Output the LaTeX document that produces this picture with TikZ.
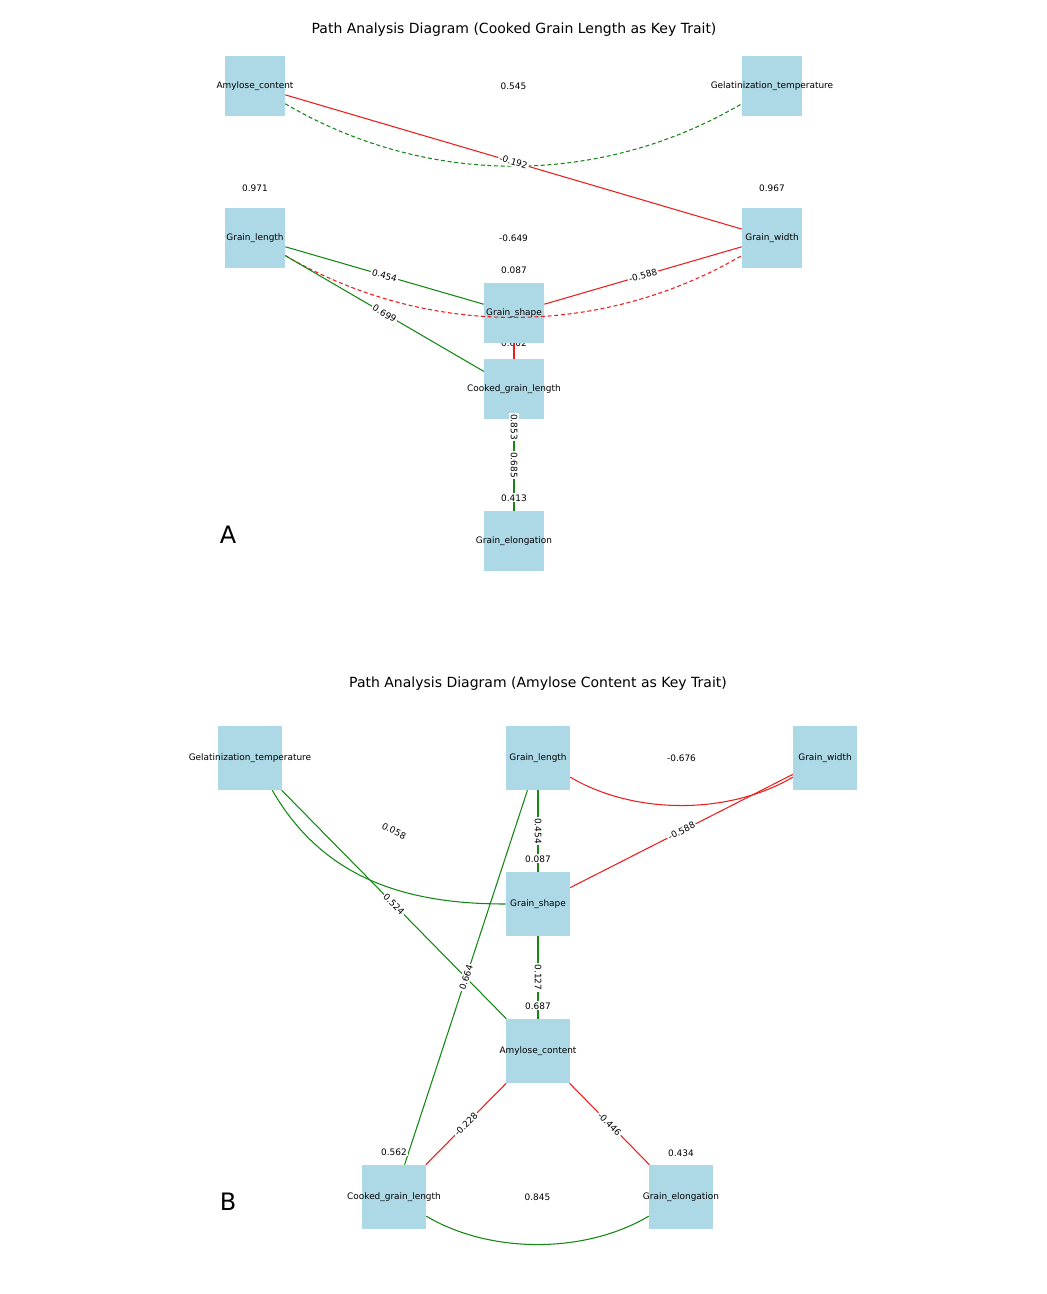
\documentclass[tikz,border=0pt]{standalone}
\usepackage{fontspec}
\setmainfont{DejaVu Sans}
\usetikzlibrary{positioning}
\definecolor{boxblue}{RGB}{173,216,230}
\definecolor{posgreen}{RGB}{20,135,20}
\definecolor{negred}{RGB}{235,30,30}
\tikzset{
  trait/.style = {fill = boxblue, shape = rectangle, minimum size = 45pt, inner sep = 0pt},
  traitB/.style = {trait, minimum size = 48pt},
  posedge/.style = {draw = posgreen, line width = 0.8pt},
  negedge/.style = {draw = negred, line width = 0.8pt},
  coef/.style = {font = \fontsize{6.7}{7}\selectfont, fill = white, inner sep = 1pt},
  val/.style = {font = \fontsize{6.7}{7}\selectfont, inner sep = 0pt}
}
\begin{document}
\begin{tikzpicture}[x = 0.75pt, y = -0.75pt]
\useasboundingbox (0,0) rectangle (1046,1294);
\node[font = \fontsize{10.5}{12}\selectfont] (titleA) at (514,30) {Path Analysis Diagram (Cooked Grain Length as Key Trait)};
\node[font = \fontsize{10.5}{12}\selectfont] (titleB) at (538,684) {Path Analysis Diagram (Amylose Content as Key Trait)};
\node[font = \fontsize{18}{20}\selectfont] (panelA) at (228,535) {A};
\node[font = \fontsize{18}{20}\selectfont] (panelB) at (228,1202) {B};

% panel A
\coordinate (a-ac) at (255,86);
\coordinate (a-gel) at (772,86);
\coordinate (a-gl) at (255,238);
\coordinate (a-gw) at (772,238);
\coordinate (a-gs) at (514,313);
\coordinate (a-cgl) at (514,389);
\coordinate (a-ge) at (514,541);
\node[val] (v602) at (514,343) {0.602};
\node[trait] (ac) at (a-ac) {};
\node[trait] (gel) at (a-gel) {};
\node[trait] (gl) at (a-gl) {};
\node[trait] (gw) at (a-gw) {};
\node[trait] (gs) at (a-gs) {};
\node[trait] (cgl) at (a-cgl) {};
\node[trait] (ge) at (a-ge) {};
\draw[negedge] (ac) -- (gw);
\draw[posedge, densely dashed] (ac) .. controls (427,187) and (600,187) .. (gel);
\draw[negedge, densely dashed] (gl) .. controls (427,338) and (600,338) .. (gw);
\draw[posedge] (gl) -- (gs);
\draw[posedge] (gl) -- (cgl);
\draw[negedge] (gw) -- (gs);
\draw[negedge] (gs) -- (cgl);
\draw[posedge] (cgl) -- (ge);
\path (a-ac) -- (a-gel) node [midway, val] {0.545};
\path (a-ac) -- (a-gw) node [midway, sloped, coef] {-0.192};
\path (a-gl) -- (a-gw) node [midway, val] {-0.649};
\path (a-gl) -- (a-gs) node [midway, sloped, coef] {0.454};
\path (a-gl) -- (a-cgl) node [midway, sloped, coef] {0.699};
\path (a-gs) -- (a-gw) node [midway, sloped, coef] {-0.588};
\path (a-gs) -- (a-ge) node [midway, sloped, coef] {0.853};
\path (a-cgl) -- (a-ge) node [midway, sloped, coef] {0.685};
\node[val, above = 12pt of gl] (v971) {0.971};
\node[val, above = 12pt of gw] (v967) {0.967};
\node[val, above = 7pt of gs] (v087a) {0.087};
\node[val, fill = white, inner sep = 1pt, above = 6pt of ge] (v413) {0.413};
\foreach \n/\t in {ac/Amylose\_content, gel/Gelatinization\_temperature, gl/Grain\_length,
  gw/Grain\_width, gs/Grain\_shape, cgl/Cooked\_grain\_length, ge/Grain\_elongation}
  \node[val] at (\n) {\t};

% panel B
\coordinate (b-gel) at (250,758);
\coordinate (b-gl) at (538,758);
\coordinate (b-gw) at (825,758);
\coordinate (b-gs) at (538,904);
\coordinate (b-ac) at (538,1051);
\coordinate (b-cgl) at (394,1197);
\coordinate (b-ge) at (681,1197);
\node[traitB] (gelB) at (b-gel) {};
\node[traitB] (glB) at (b-gl) {};
\node[traitB] (gwB) at (b-gw) {};
\node[traitB] (gsB) at (b-gs) {};
\node[traitB] (acB) at (b-ac) {};
\node[traitB] (cglB) at (b-cgl) {};
\node[traitB] (geB) at (b-ge) {};
\draw[negedge] (glB) .. controls (634,815) and (729,815) .. (gwB);
\draw[posedge] (glB) -- (gsB);
\draw[negedge] (gwB) -- (gsB);
\draw[posedge] (gelB.south east) ++(-10,0) coordinate (gelfoot) to[out = -60, in = 180] (gsB.west);
\draw[posedge] (gelB) -- (acB);
\draw[posedge] (glB) -- (cglB);
\draw[posedge] (gsB) -- (acB);
\draw[negedge] (acB) -- (cglB);
\draw[negedge] (acB) -- (geB);
\draw[posedge] (cglB) .. controls (490,1254) and (585,1254) .. (geB);
\path (b-gl) -- (b-gw) node [midway, val] {-0.676};
\path (b-gl) -- (b-gs) node [midway, sloped, coef] {0.454};
\path (b-gs) -- (b-gw) node [midway, sloped, coef] {-0.588};
\path (b-gel) -- (b-gs) node [midway, sloped, val] {0.058};
\path (b-gel) -- (b-ac) node [midway, sloped, coef] {0.524};
\path (b-cgl) -- (b-gl) node [midway, sloped, coef] {0.664};
\path (b-gs) -- (b-ac) node [midway, sloped, coef] {0.127};
\path (b-cgl) -- (b-ac) node [midway, sloped, coef] {-0.228};
\path (b-ac) -- (b-ge) node [midway, sloped, coef] {-0.446};
\path (b-cgl) -- (b-ge) node [midway, val] {0.845};
\node[val, fill = white, inner sep = 1pt, above = 6pt of gsB] (v087b) {0.087};
\node[val, fill = white, inner sep = 1pt, above = 6pt of acB] (v687) {0.687};
\node[val, fill = white, inner sep = 1pt, above = 6pt of cglB] (v562) {0.562};
\node[val, above = 6pt of geB] (v434) {0.434};
\foreach \n/\t in {gelB/Gelatinization\_temperature, glB/Grain\_length, gwB/Grain\_width,
  gsB/Grain\_shape, acB/Amylose\_content, cglB/Cooked\_grain\_length, geB/Grain\_elongation}
  \node[val] at (\n) {\t};
\end{tikzpicture}
\end{document}
